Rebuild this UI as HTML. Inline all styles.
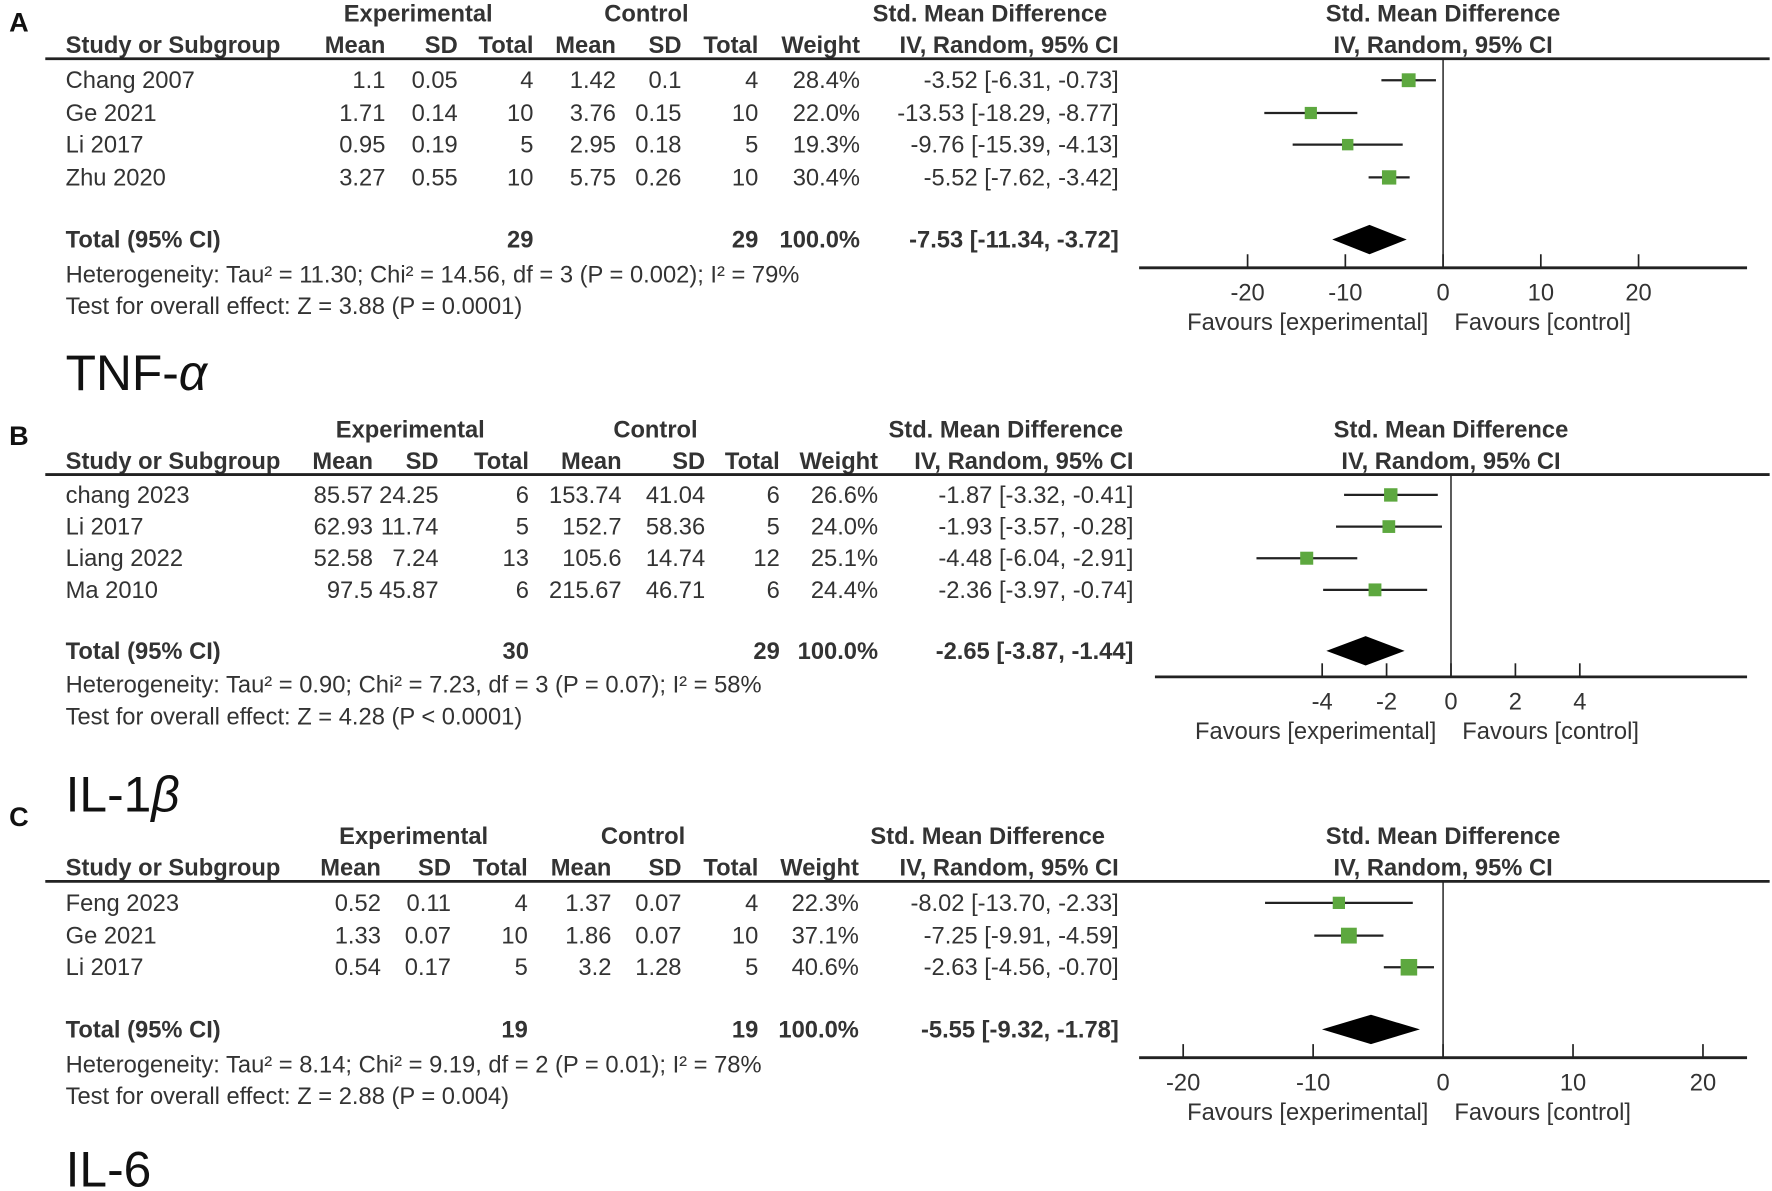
<!DOCTYPE html>
<html><head><meta charset="utf-8"><style>
html,body{margin:0;padding:0;background:#fff;width:1772px;height:1191px;overflow:hidden}
svg{display:block}
text{font-family:"Liberation Sans",Arial,sans-serif;font-size:21px;fill:#333}
.b{font-weight:bold}
</style></head><body>
<svg id="fig" width="1772" height="1191" viewBox="0 0 1568 1054" xmlns="http://www.w3.org/2000/svg"></svg>
<script>
// Panel A data
const aStudies=["Chang 2007","Ge 2021","Li 2017","Zhu 2020"];
const aExpMean=["1.1","1.71","0.95","3.27"];const aExpSD=["0.05","0.14","0.19","0.55"];const aExpN=["4","10","5","10"];
const aCtlMean=["1.42","3.76","2.95","5.75"];const aCtlSD=["0.1","0.15","0.18","0.26"];const aCtlN=["4","10","5","10"];
const aWeight=[28.4,22.0,19.3,30.4];
const aEst=[-3.52,-13.53,-9.76,-5.52];const aLo=[-6.31,-18.29,-15.39,-7.62];const aHi=[-0.73,-8.77,-4.13,-3.42];
const aTotal=[-7.53,-11.34,-3.72];const aTicks=[-20,-10,0,10,20];
// Panel B data
const bStudies=["chang 2023","Li 2017","Liang 2022","Ma 2010"];
const bExpMean=["85.57","62.93","52.58","97.5"];const bExpSD=["24.25","11.74","7.24","45.87"];const bExpN=["6","5","13","6"];
const bCtlMean=["153.74","152.7","105.6","215.67"];const bCtlSD=["41.04","58.36","14.74","46.71"];const bCtlN=["6","5","12","6"];
const bWeight=[26.6,24.0,25.1,24.4];
const bEst=[-1.87,-1.93,-4.48,-2.36];const bLo=[-3.32,-3.57,-6.04,-3.97];const bHi=[-0.41,-0.28,-2.91,-0.74];
const bTotal=[-2.65,-3.87,-1.44];const bTicks=[-4,-2,0,2,4];
// Panel C data
const cStudies=["Feng 2023","Ge 2021","Li 2017"];
const cExpMean=["0.52","1.33","0.54"];const cExpSD=["0.11","0.07","0.17"];const cExpN=["4","10","5"];
const cCtlMean=["1.37","1.86","3.2"];const cCtlSD=["0.07","0.07","1.28"];const cCtlN=["4","10","5"];
const cWeight=[22.3,37.1,40.6];
const cEst=[-8.02,-7.25,-2.63];const cLo=[-13.70,-9.91,-4.56];const cHi=[-2.33,-4.59,-0.70];
const cTotal=[-5.55,-9.32,-1.78];const cTicks=[-20,-10,0,10,20];

const NS="http://www.w3.org/2000/svg";const svg=document.getElementById('fig');
function mk(tag,attrs,parent){const e=document.createElementNS(NS,tag);for(const k in attrs)e.setAttribute(k,attrs[k]);(parent||svg).appendChild(e);return e;}
function txt(s,x,y,anchor,cls,parent,name){const t=mk('text',{x:x,y:y,'text-anchor':anchor||'start'},parent);if(cls)t.setAttribute('class',cls);t.textContent=s;


return t;}
function fmt(v){return v.toFixed(2);}
function ci(e,l,h){return fmt(e)+" ["+fmt(l)+", "+fmt(h)+"]";}

function panel(p){
  const g=mk('g',{});
  
  
  const c=p.cols, y0=p.y;
  const L=txt(p.letter,8,p.letterY,'start','b',g,'panel-letter');
  L.setAttribute('style','font-size:24px;fill:#111');
  const h1=y0+26, h2=y0+54;
  txt("Experimental",c.exp,h1,'middle','b',g,'experimental-header');
  txt("Control",c.ctl,h1,'middle','b',g,'control-header');
  txt("Std. Mean Difference",c.smd,h1,'middle','b',g,'smd-header');
  txt("Std. Mean Difference",p.zx,h1,'middle','b',g,'plot-header');
  txt("Study or Subgroup",58,h2,'start','b',g,'study-header');
  const hd=["Mean","SD","Total","Mean","SD","Total","Weight","IV, Random, 95% CI"];
  hd.forEach((s,i)=>txt(s,c.r[i],h2,'end','b',g,'column-header'));
  txt("IV, Random, 95% CI",p.zx,h2,'middle','b',g,'plot-subheader');
  mk('line',{x1:40,x2:1566,y1:h2+5,y2:h2+5,stroke:'#222','stroke-width':2.5},g);
  const sx=v=>p.zx+v*p.ppu;
  mk('line',{x1:p.zx,x2:p.zx,y1:h2+5,y2:p.axisY,stroke:'#222','stroke-width':1.3},g);
  p.studies.forEach((s,i)=>{
    const ry=y0+p.rows[i];
    const vals=[p.em[i],p.es[i],p.en[i],p.cm[i],p.cs[i],p.cn[i],p.w[i].toFixed(1)+"%",ci(p.est[i],p.lo[i],p.hi[i])];
    txt(s,58,ry+7,'start','',g,'study-name');
    vals.forEach((v,j)=>txt(v,c.r[j],ry+7,'end','',g,'study-value'));
    const l=mk('line',{x1:sx(p.lo[i]),x2:sx(p.hi[i]),y1:ry,y2:ry,stroke:'#222','stroke-width':2},g);
    
    
    const sz=Math.sqrt(p.w[i])*2.3;
    const r=mk('rect',{x:sx(p.est[i])-sz/2,y:ry-sz/2,width:sz,height:sz,fill:'#5da83f'},g);
    
    
  });
  const ty=y0+p.totalRow;
  txt("Total (95% CI)",58,ty+7,'start','b',g,'total-label');
  txt(p.tot[0],c.r[2],ty+7,'end','b',g,'total-exp');
  txt(p.tot[1],c.r[5],ty+7,'end','b',g,'total-ctl');
  txt("100.0%",c.r[6],ty+7,'end','b',g,'total-weight');
  txt(ci(p.total[0],p.total[1],p.total[2]),c.r[7],ty+7,'end','b',g,'total-ci');
  const d=mk('polygon',{points:[sx(p.total[1])+','+ty,sx(p.total[0])+','+(ty-13),sx(p.total[2])+','+ty,sx(p.total[0])+','+(ty+13)].join(' '),fill:'#000'},g);
  
  
  txt(p.het,58,y0+p.hetRow,'start','',g,'heterogeneity-text');
  txt(p.test,58,y0+p.hetRow+28,'start','',g,'overall-effect-text');
  mk('line',{x1:p.ax0,x2:1546,y1:p.axisY,y2:p.axisY,stroke:'#222','stroke-width':2.5},g);
  p.ticks.forEach(t=>{
    mk('line',{x1:sx(t),x2:sx(t),y1:p.axisY-12,y2:p.axisY,stroke:'#222','stroke-width':1.5},g);
    txt(String(t),sx(t),p.axisY+29,'middle','',g,'tick-label');
  });
  txt("Favours [experimental]",p.zx-13,p.axisY+55,'end','',g,'favours-experimental');
  txt("Favours [control]",p.zx+10,p.axisY+55,'start','',g,'favours-control');
  const big=mk('text',{x:58,y:p.nameY},g);
  
  
  big.setAttribute('style','font-size:44px;fill:#111');
  big.textContent=p.name;
  if(p.greek){const ts=mk('tspan',{},big);ts.setAttribute('style','font-style:italic');ts.textContent=p.greek;}
}

panel({id:'a',letter:'A',letterY:28,y:-7,zx:1277,ppu:8.65,axisY:237,ax0:1008,
 cols:{exp:370,ctl:572,smd:876,r:[341,405,472,545,603,671,761,990]},
 rows:[78,107,135,164],totalRow:219,hetRow:257,
 studies:aStudies,em:aExpMean,es:aExpSD,en:aExpN,cm:aCtlMean,cs:aCtlSD,cn:aCtlN,w:aWeight,est:aEst,lo:aLo,hi:aHi,total:aTotal,ticks:aTicks,tot:["29","29"],
 het:"Heterogeneity: Tau² = 11.30; Chi² = 14.56, df = 3 (P = 0.002); I² = 79%",test:"Test for overall effect: Z = 3.88 (P = 0.0001)",name:"TNF-",greek:"α",nameY:345});
panel({id:'b',letter:'B',letterY:394,y:361,zx:1284,ppu:28.5,axisY:599,ax0:1022,
 cols:{exp:363,ctl:580,smd:890,r:[330,388,468,550,624,690,777,1003]},
 rows:[77,105,133,161],totalRow:215,hetRow:252,
 studies:bStudies,em:bExpMean,es:bExpSD,en:bExpN,cm:bCtlMean,cs:bCtlSD,cn:bCtlN,w:bWeight,est:bEst,lo:bLo,hi:bHi,total:bTotal,ticks:bTicks,tot:["30","29"],
 het:"Heterogeneity: Tau² = 0.90; Chi² = 7.23, df = 3 (P = 0.07); I² = 58%",test:"Test for overall effect: Z = 4.28 (P < 0.0001)",name:"IL-1",greek:"β",nameY:718});
panel({id:'c',letter:'C',letterY:731,y:721,zx:1277,ppu:11.5,axisY:936,ax0:1008,
 cols:{exp:366,ctl:569,smd:874,r:[337,399,467,541,603,671,760,990]},
 rows:[78,107,135],totalRow:190,hetRow:228,
 studies:cStudies,em:cExpMean,es:cExpSD,en:cExpN,cm:cCtlMean,cs:cCtlSD,cn:cCtlN,w:cWeight,est:cEst,lo:cLo,hi:cHi,total:cTotal,ticks:cTicks,tot:["19","19"],
 het:"Heterogeneity: Tau² = 8.14; Chi² = 9.19, df = 2 (P = 0.01); I² = 78%",test:"Test for overall effect: Z = 2.88 (P = 0.004)",name:"IL-6",greek:"",nameY:1050});
</script>
</body></html>
